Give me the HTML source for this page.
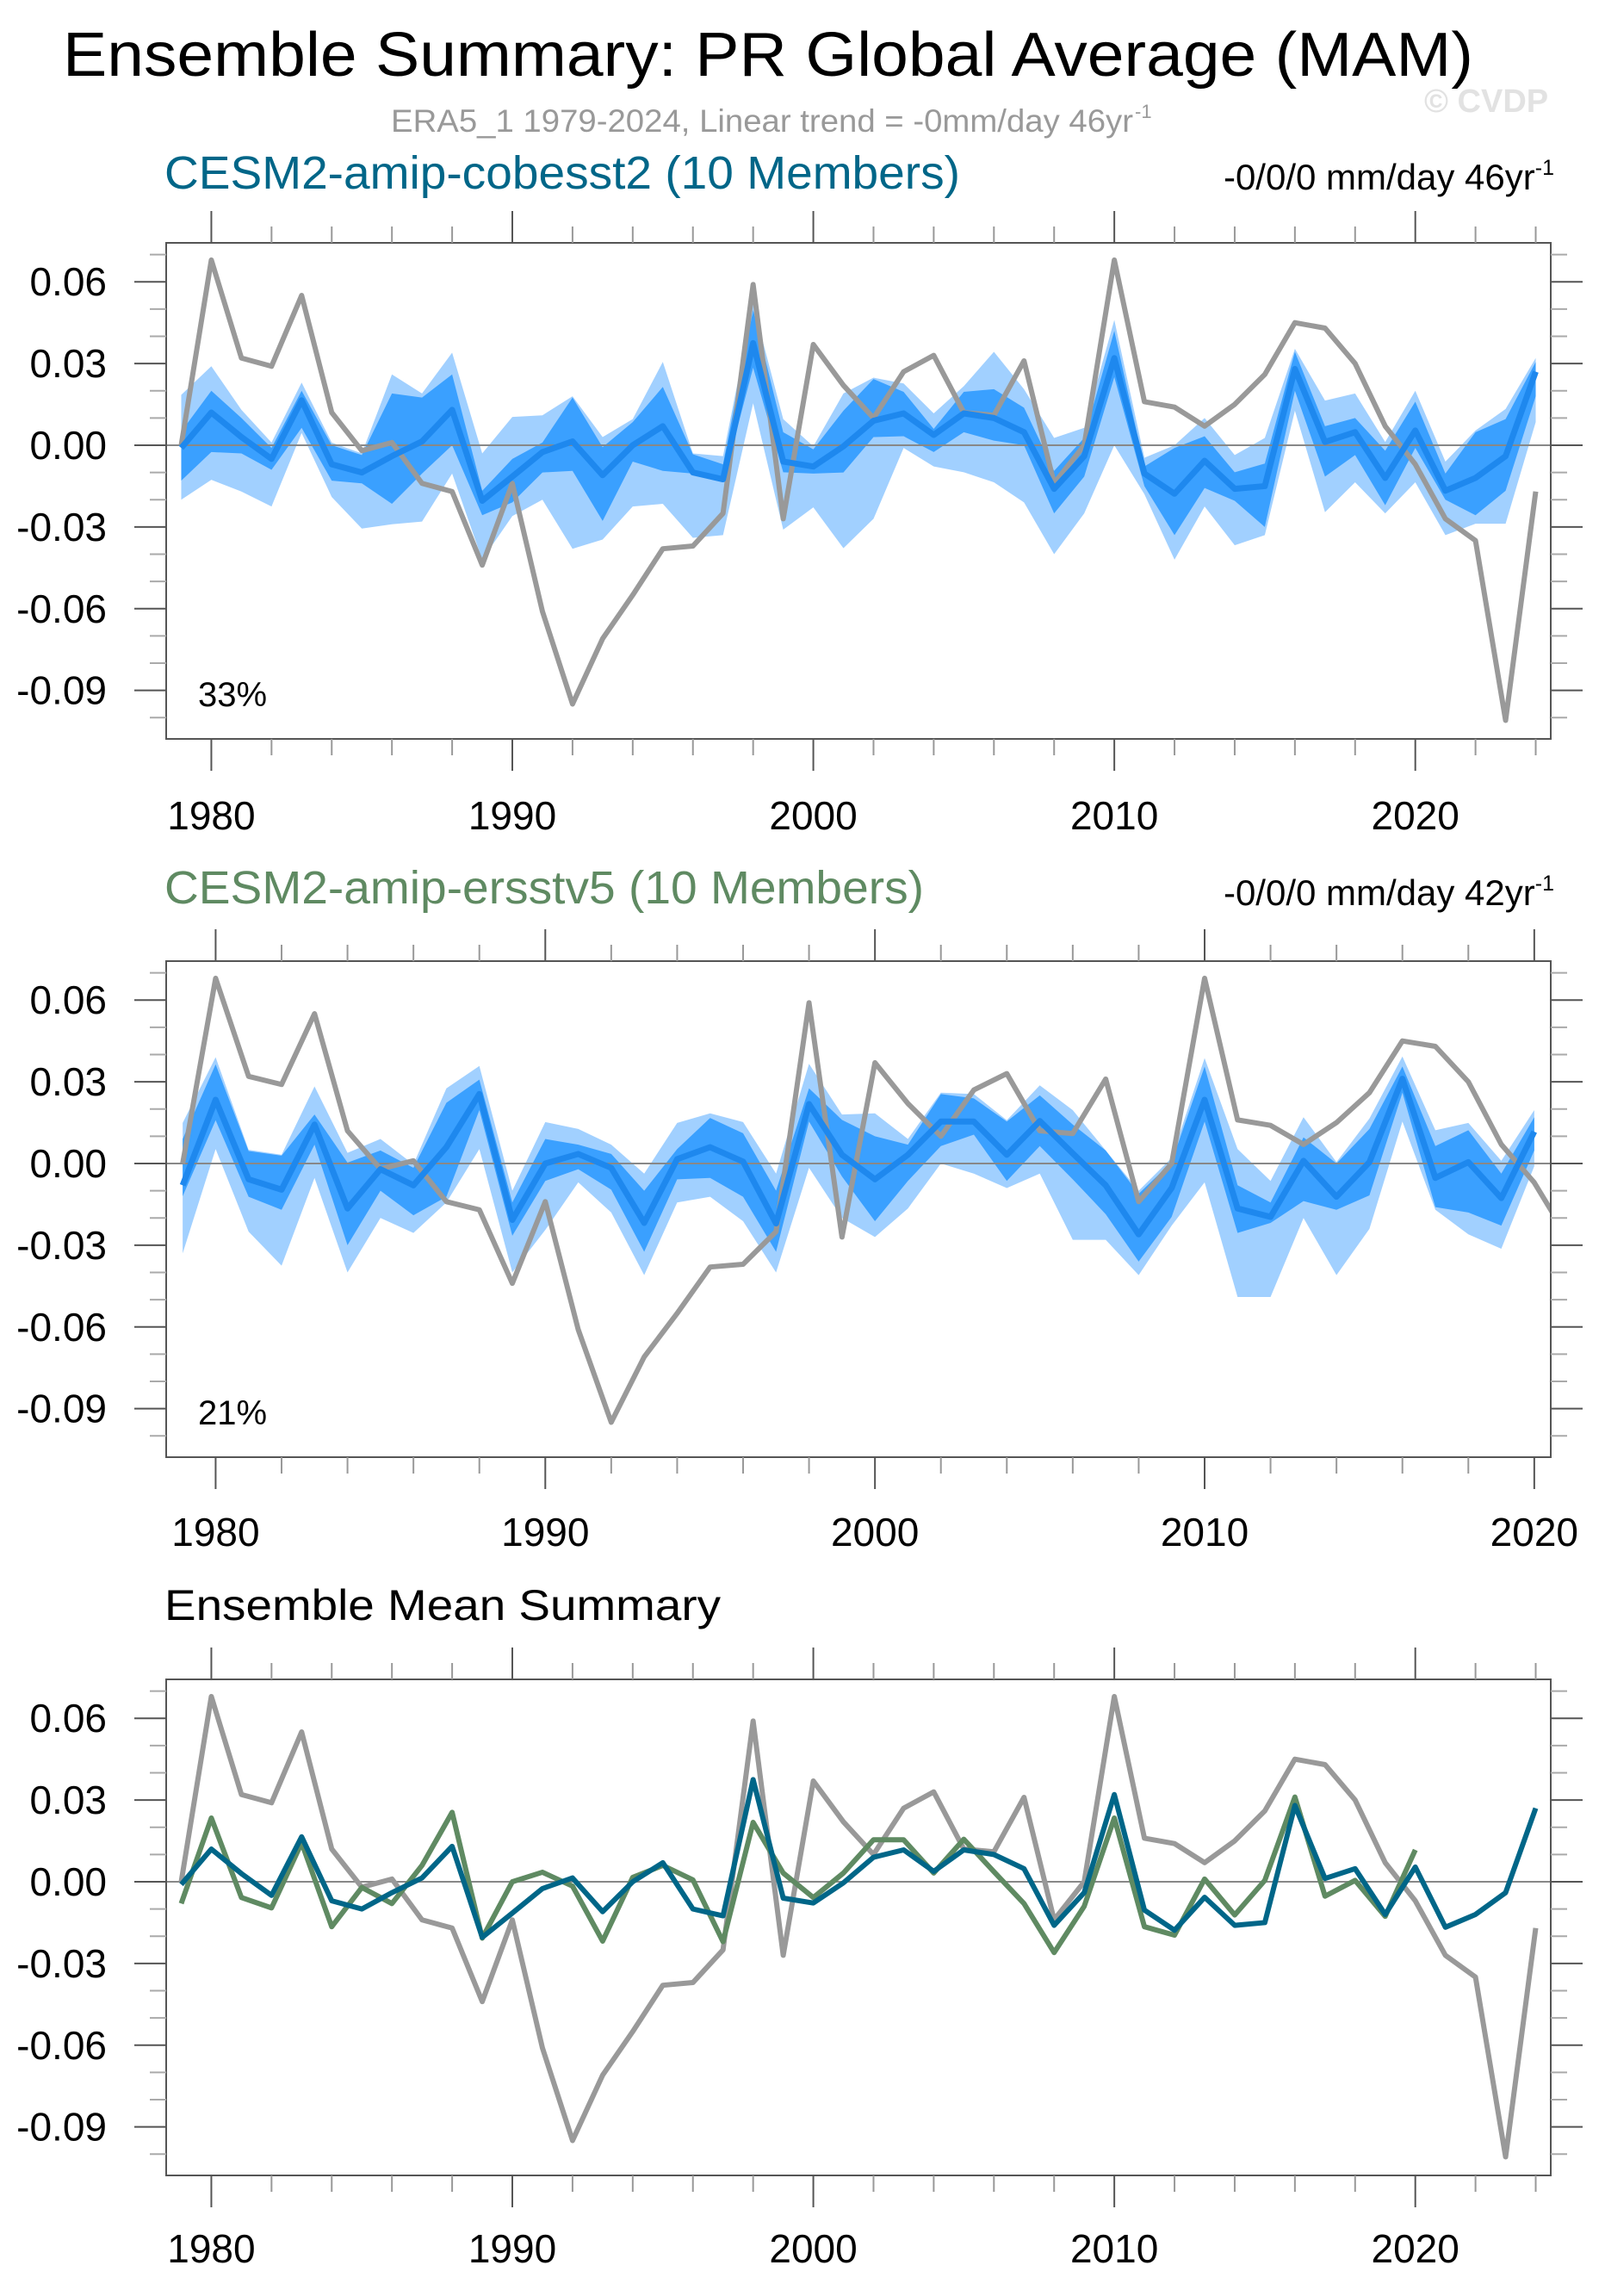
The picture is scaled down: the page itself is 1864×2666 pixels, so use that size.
<!DOCTYPE html>
<html><head><meta charset="utf-8"><style>
html,body{margin:0;padding:0;background:#fff;}
svg{display:block;font-family:"Liberation Sans",Arial,sans-serif;}
</style></head>
<body>
<svg id="chart" xmlns="http://www.w3.org/2000/svg" width="1864" height="2666" viewBox="0 0 1864 2666">
<text x="73" y="88" font-size="72" textLength="1638" lengthAdjust="spacingAndGlyphs">Ensemble Summary: PR Global Average (MAM)</text>
<text x="454" y="153" font-size="37" fill="#999" textLength="862" lengthAdjust="spacingAndGlyphs">ERA5_1 1979-2024, Linear trend = -0mm/day 46yr</text>
<text x="1318" y="137" font-size="22" fill="#999">-1</text>
<text x="1654" y="130" font-size="38" font-weight="bold" fill="#e2e2e2">© CVDP</text>
<text x="191" y="219" font-size="54" fill="#006688" textLength="924" lengthAdjust="spacingAndGlyphs">CESM2-amip-cobesst2 (10 Members)</text>
<text x="1805" y="220" font-size="42" text-anchor="end">-0/0/0 mm/day 46yr<tspan dy="-17" font-size="25">-1</tspan></text>
<text x="191" y="1049" font-size="54" fill="#5f8a62" textLength="882" lengthAdjust="spacingAndGlyphs">CESM2-amip-ersstv5 (10 Members)</text>
<text x="1805" y="1051" font-size="42" text-anchor="end">-0/0/0 mm/day 42yr<tspan dy="-17" font-size="25">-1</tspan></text>
<text x="191" y="1881" font-size="50" textLength="646" lengthAdjust="spacingAndGlyphs">Ensemble Mean Summary</text>
</svg>
<script>
const yearsA = Array.from({length:46},(_,i)=>1979+i);
const yearsB = Array.from({length:42},(_,i)=>1979+i);
const era5 = [0.000,0.068,0.032,0.029,0.055,0.012,-0.002,0.001,-0.014,-0.017,
 -0.044,-0.014,-0.061,-0.095,-0.071,-0.055,-0.038,-0.037,-0.025,0.059,
 -0.027,0.037,0.022,0.010,0.027,0.033,0.012,0.011,0.031,-0.014,
 0.000,0.068,0.016,0.014,0.007,0.015,0.026,0.045,0.043,0.030,
 0.007,-0.007,-0.027,-0.035,-0.101,-0.017];
const cobOuterTop = [.0185,.029,.013,.001,.023,.001,-.003,.026,.019,.034,
 -.003,.0104,.011,.018,.003,.0096,.0306,-.003,-.004,.0517,
 .0096,-.0004,.019,.0248,.0227,.0117,.0217,.0343,.0206,.0027,
 .0064,.046,-.0046,0,.010,-.0036,.0027,.0354,.0164,.019,
 .0012,.020,-.006,.0054,.0133,.032];
const cobInnerTop = [.005,.020,.010,-.001,.020,0,-.0036,.019,.0175,.026,
 -.0167,-.005,.001,.0175,-.0007,.0085,.0214,-.0033,-.007,.0496,
 .0048,-.0015,.0127,.0243,.0196,.006,.0196,.0206,.0138,-.0094,
 .0027,.042,-.0078,-.001,.0033,-.0099,-.0067,.0343,.007,.010,
 -.002,.016,-.0104,.0048,.0096,.0306];
const cobMean = [-.001,.012,.003,-.005,.0165,-.007,-.010,-.004,.0014,.013,
 -.0204,-.0115,-.0025,.0014,-.011,0,.007,-.010,-.0125,.0375,
 -.006,-.0078,-.0004,.009,.0117,.0038,.0117,.010,.0048,-.016,
 -.004,.032,-.0104,-.0178,-.0057,-.016,-.015,.028,.0012,.0048,
 -.012,.0054,-.0167,-.012,-.004,.027];
const cobInnerBot = [-.013,-.0025,-.003,-.009,.0064,-.013,-.014,-.0215,-.0104,0,
 -.0257,-.021,-.010,-.0094,-.0278,-.006,-.0094,-.0104,-.0136,.0285,
 -.0099,-.0104,-.010,.003,.0033,-.0025,.0048,.0017,0,-.025,
 -.0115,.025,-.015,-.033,-.0157,-.0204,-.030,.020,-.0115,-.0036,
 -.022,-.001,-.020,-.0257,-.0167,.018];
const cobOuterBot = [-.020,-.0127,-.017,-.0225,.0045,-.019,-.0306,-.029,-.028,-.0104,
 -.042,-.026,-.020,-.038,-.0346,-.0225,-.0215,-.034,-.033,.0154,
 -.031,-.0228,-.0378,-.027,-.001,-.0078,-.0099,-.0136,-.021,-.040,
 -.025,0,-.018,-.042,-.0225,-.0367,-.033,.0127,-.0246,-.0136,
 -.025,-.0136,-.033,-.0288,-.0288,.0085];
const ersOuterTop = [.0149,.039,.005,.0032,.0283,.0039,.009,-.0003,.0276,.0358,
 -.010,.0152,.0127,.0069,-.0037,.0149,.0184,.0152,-.0037,.0366,
 .018,.0184,.009,.026,.0255,.0159,.0287,.0196,.0048,-.010,
 .0021,.0387,.0053,-.0064,.017,.0005,.0165,.0393,.0122,.0149,
 .001,.0196];
const ersInnerTop = [.009,.0364,.0046,.0029,.018,.0003,.0048,-.0016,.0223,.0308,
 -.0143,.009,.0069,.0035,-.010,.0053,.0167,.0111,-.010,.0276,
 .016,.010,.0069,.0255,.0239,.0154,.025,.0143,.0048,-.0111,
 .0005,.0356,-.008,-.0143,.0096,0,.0127,.0356,.0064,.0122,
 -.0037,.017];
const ersMean = [-.008,.0234,-.0058,-.0096,.0143,-.0165,-.0021,-.008,.006,.0255,
 -.0207,0,.0035,-.0016,-.0218,.0016,.006,.0007,-.022,.0218,
 .0032,-.0058,.0032,.0154,.0154,.0032,.0156,.0037,-.008,-.026,
 -.009,.0234,-.0165,-.0196,.001,-.0122,.0005,.0311,-.0053,.0005,
 -.0127,.0117];
const ersInnerBot = [-.012,.0159,-.0122,-.017,.0069,-.030,-.010,-.019,-.0122,.0196,
 -.0265,-.0064,-.0021,-.0096,-.0324,-.0058,-.0053,-.0122,-.0324,.0154,
 -.0048,-.0212,-.0064,.0064,.0106,-.0064,.0064,-.0058,-.0186,-.036,
 -.0196,.0154,-.0255,-.0218,-.0138,-.017,-.0117,.026,-.016,-.018,
 -.0228,.0048];
const ersOuterBot = [-.033,.0053,-.025,-.0375,-.0053,-.040,-.020,-.0255,-.0143,.0053,
 -.040,-.0244,-.0069,-.018,-.041,-.0143,-.0122,-.0212,-.040,-.0016,
 -.020,-.027,-.0165,0,-.0037,-.009,-.0037,-.028,-.028,-.041,
 -.0228,-.0069,-.049,-.049,-.020,-.041,-.024,.0154,-.017,-.026,
 -.0313,-.001];
const yTickValues = [0.06,0.03,0.00,-0.03,-0.06,-0.09];
const yTickLabels = ["0.06","0.03","0.00","-0.03","-0.06","-0.09"];
const xTickYears = [1980,1990,2000,2010,2020];
const percentLabels = ["33%","21%"];

const NS="http://www.w3.org/2000/svg";
const svg=document.getElementById('chart');
function mk(tag,attrs,parent){const e=document.createElementNS(NS,tag);for(const k in attrs)e.setAttribute(k,attrs[k]);(parent||svg).appendChild(e);return e;}

function panel(cfg){
  const g=mk('g',{});
  
  
  const L=193,R=1801,T=cfg.top,B=cfg.top+576;
  const xmin=1978.5,xmax=cfg.xmax;
  const zeroY=T+235, per=3163;
  const xs=v=>L+(v-xmin)/(xmax-xmin)*(R-L);
  const ys=v=>zeroY-v*per;
  const clipId='clip'+cfg.top;
  const cp=mk('clipPath',{id:clipId},g);mk('rect',{x:L,y:T,width:R-L,height:B-T},cp);
  const plot=mk('g',{'clip-path':'url(#'+clipId+')'},g);
  function band(years,top,bot,fill,name){
    let d='M'+years.map((y,i)=>xs(y)+','+ys(top[i])).join('L');
    for(let i=years.length-1;i>=0;i--) d+='L'+xs(years[i])+','+ys(bot[i]);
    const p=mk('path',{d:d+'Z',fill:fill,stroke:'none'},plot);
    
    
  }
  function line(years,vals,color,w,name){
    const p=mk('polyline',{points:years.map((y,i)=>xs(y)+','+ys(vals[i])).join(' '),fill:'none',stroke:color,'stroke-width':w,'stroke-linejoin':'round'},plot);
    
    
  }
  if(cfg.bands){
    const b=cfg.bands;
    band(b.years,b.ot,b.ob,'#a1d0ff','outer-spread-band');
    band(b.years,b.it,b.ib,'#3aa0ff','inner-spread-band');
  }
  const z=mk('line',{x1:L,x2:R,y1:zeroY,y2:zeroY,stroke:'#888','stroke-width':2},plot);
  
  
  line(yearsA,era5,'#999',6,'era5-line');
  cfg.lines.forEach(l=>line(l.years,l.vals,l.color,l.w,l.name));
  mk('rect',{x:L,y:T,width:R-L,height:B-T,fill:'none',stroke:'#555','stroke-width':2},g);
  for(let yr=1980;yr<=xmax;yr+=2){
    const x=xs(yr),maj=yr%10===0,len=maj?37:19;
    const c=maj?'#555':'#999';
    mk('line',{x1:x,x2:x,y1:T,y2:T-len,stroke:c,'stroke-width':2},g);
    mk('line',{x1:x,x2:x,y1:B,y2:B+len,stroke:c,'stroke-width':2},g);
  }
  xTickYears.forEach(yr=>{
    const t=mk('text',{x:xs(yr),y:cfg.labelY,'font-size':46,'text-anchor':'middle'},g);t.textContent=yr;
    
    
  });
  for(let k=7;k>=-10;k--){
    const v=k/100,y=ys(v);if(y<T-1||y>B+1)continue;
    const maj=k%3===0,len=maj?37:19,c=maj?'#555':'#aaa';
    mk('line',{x1:L,x2:L-len,y1:y,y2:y,stroke:c,'stroke-width':2},g);
    mk('line',{x1:R,x2:R+len,y1:y,y2:y,stroke:c,'stroke-width':2},g);
  }
  yTickValues.forEach((v,i)=>{
    const t=mk('text',{x:124,y:ys(v)+16,'font-size':46,'text-anchor':'end'},g);t.textContent=yTickLabels[i];
    
    
  });
  if(cfg.pct){
    const t=mk('text',{x:230,y:B-38,'font-size':40},g);t.textContent=cfg.pct;
    
    
  }
}
panel({name:'cobesst2-panel',top:282,xmax:2024.5,labelY:963,pct:percentLabels[0],
  bands:{years:yearsA,ot:cobOuterTop,it:cobInnerTop,ib:cobInnerBot,ob:cobOuterBot},
  lines:[{years:yearsA,vals:cobMean,color:'#1e88ee',w:7,name:'cobesst2-mean-line'}]});
panel({name:'ersstv5-panel',top:1116,xmax:2020.5,labelY:1795,pct:percentLabels[1],
  bands:{years:yearsB,ot:ersOuterTop,it:ersInnerTop,ib:ersInnerBot,ob:ersOuterBot},
  lines:[{years:yearsB,vals:ersMean,color:'#1e88ee',w:7,name:'ersstv5-mean-line'}]});
panel({name:'ensemble-mean-panel',top:1950,xmax:2024.5,labelY:2627,
  lines:[{years:yearsB,vals:ersMean,color:'#5f8a62',w:6,name:'ersstv5-mean-line'},
         {years:yearsA,vals:cobMean,color:'#006688',w:6,name:'cobesst2-mean-line'}]});
</script>
</body></html>
